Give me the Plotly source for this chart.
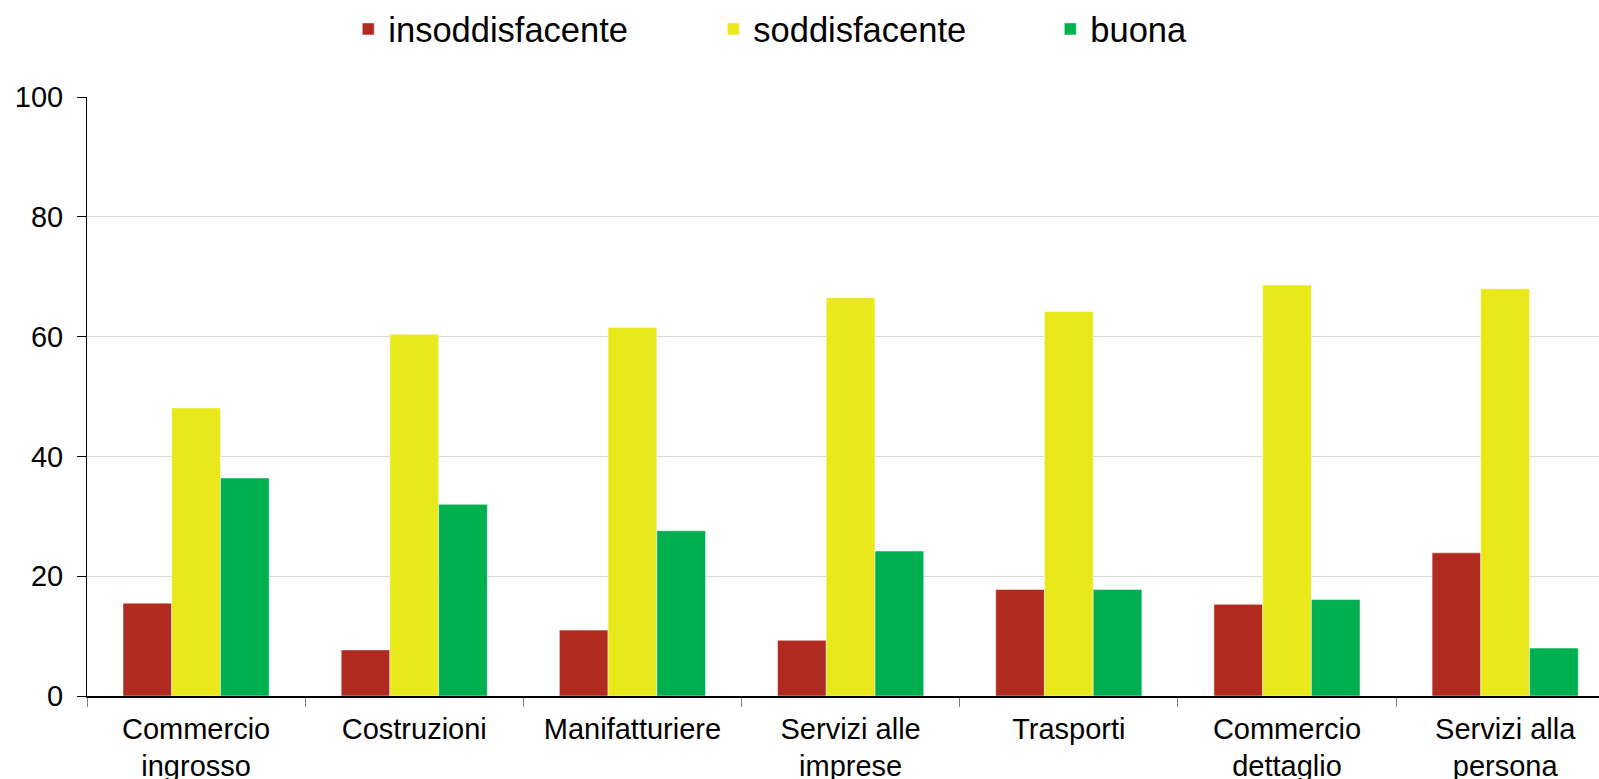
"""Grouped bar chart: valutazione per settore."""

import plotly.graph_objects as go

categories = [
    "Commercio<br>ingrosso",
    "Costruzioni",
    "Manifatturiere",
    "Servizi alle<br>imprese",
    "Trasporti",
    "Commercio<br>dettaglio",
    "Servizi alla<br>persona",
]
insoddisfacente = [15.5, 7.7, 11.0, 9.3, 17.8, 15.3, 23.9]
soddisfacente = [48.1, 60.4, 61.5, 66.5, 64.2, 68.6, 68.0]
buona = [36.4, 32.0, 27.6, 24.2, 17.8, 16.1, 8.0]
y_ticks = [0, 20, 40, 60, 80, 100]

FONT = "Arial, Liberation Sans, sans-serif"

series = [
    ("insoddisfacente", insoddisfacente, "#B02A20", "legend"),
    ("soddisfacente", soddisfacente, "#E8E81A", "legend2"),
    ("buona", buona, "#00B050", "legend3"),
]

fig = go.Figure()
for name, values, color, legend in series:
    fig.add_trace(
        go.Bar(
            x=categories,
            y=values,
            name=name,
            legend=legend,
            showlegend=True,
            marker={"color": color, "line": {"color": "rgba(255,255,255,0.5)", "width": 1}},
        )
    )

legend_common = {
    "orientation": "h",
    "y": 1.1137,
    "yanchor": "middle",
    "xanchor": "left",
    "font": {"family": FONT, "size": 34.5, "color": "black"},
    "bgcolor": "rgba(0,0,0,0)",
}

fig.update_layout(
    width=1599,
    height=779,
    margin={"l": 87, "r": 0, "t": 96, "b": 83},
    plot_bgcolor="white",
    paper_bgcolor="white",
    barmode="group",
    bargap=0.33,
    bargroupgap=0,
    showlegend=True,
    font={"family": FONT, "size": 29, "color": "black"},
    legend={**legend_common, "x": 0.1728},
    legend2={**legend_common, "x": 0.4142},
    legend3={**legend_common, "x": 0.6371},
    xaxis={
        "type": "category",
        "range": [-0.5, 6.43],
        "tickson": "boundaries",
        "ticks": "outside",
        "ticklen": 9,
        "tickcolor": "#808080",
        "ticklabelstandoff": 6,
        "showline": True,
        "linecolor": "black",
        "linewidth": 1.5,
        "showgrid": False,
        "tickfont": {"family": FONT, "size": 29, "color": "black"},
        "automargin": False,
    },
    yaxis={
        "range": [0, 100],
        "tickvals": y_ticks,
        "ticks": "outside",
        "ticklen": 9,
        "tickcolor": "black",
        "ticklabelstandoff": 8,
        "showline": True,
        "linecolor": "black",
        "linewidth": 1,
        "gridcolor": "#d9d9d9",
        "gridwidth": 1,
        "zeroline": False,
        "tickfont": {"family": FONT, "size": 29, "color": "black"},
        "automargin": False,
    },
)

fig.write_html(
    "out.html",
    config={"displayModeBar": False},
    post_script="document.body.style.margin='0';",
)
